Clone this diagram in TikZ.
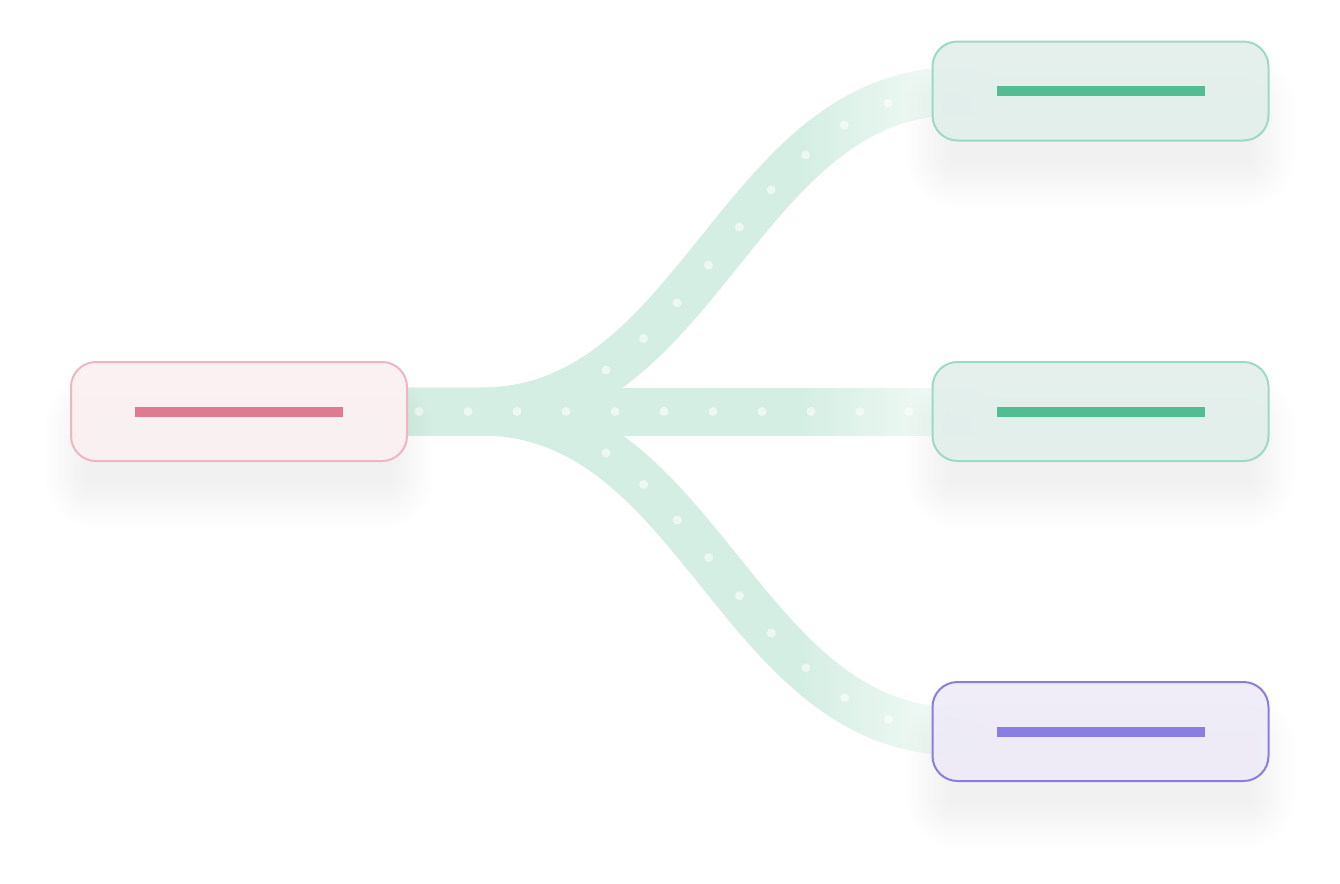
\documentclass[tikz,border=0pt]{standalone}
\usepackage{tikz}
\usetikzlibrary{decorations.markings}

\definecolor{bandgreen}{HTML}{D5EEE3}
\definecolor{pinkfill}{HTML}{FBF0F2}
\definecolor{pinkline}{HTML}{EFB5C3}
\definecolor{pinkbar}{HTML}{E07A93}
\definecolor{greenfill}{HTML}{E2EFEB}
\definecolor{greenline}{HTML}{9DD9C4}
\definecolor{greenbar}{HTML}{52BD93}
\definecolor{violetfill}{HTML}{EEEBF8}
\definecolor{violetline}{HTML}{8B7CE0}
\definecolor{violetbar}{HTML}{8A7DE3}
\definecolor{shadetone}{HTML}{3C4670}

\pgfdeclarelayer{back}
\pgfdeclarelayer{shade}
\pgfsetlayers{back,shade,main}

\begin{document}
\begin{tikzpicture}[x=0.5pt, y=-0.5pt,
    card/.style n args={3}{draw=#1, fill=#2, fill opacity=0.88, line width=1pt,
        rounded corners=12.5pt, minimum width=168pt, minimum height=49.5pt, inner sep=0pt,
        path picture={\fill[#3, fill opacity=1, sharp corners]
            ([xshift=-52pt,yshift=-2.5pt]path picture bounding box.center) rectangle
            ([xshift=52pt,yshift=2.5pt]path picture bounding box.center);}},
    band/.style={draw=#1, line width=24pt},
    band/.default=bandgreen,
    beads/.style 2 args={decoration={markings,
        mark=between positions #1 and 1 step 24.5pt with {\fill[#2] (0,0) circle (2.25pt);}},
        decorate}]

% Cards
\node[card={pinkline}{pinkfill}{pinkbar}] (src) at (239,411.5) {};
\node[card={greenline}{greenfill}{greenbar}] (top) at (1100.5,91) {};
\node[card={greenline}{greenfill}{greenbar}] (mid) at (1100.5,411.5) {};
\node[card={violetline}{violetfill}{violetbar}] (bot) at (1100.5,731.5) {};

% Soft shadows under the cards
\begin{pgfonlayer}{shade}
    \foreach \n in {src,top,mid,bot}
        \foreach \k in {-5,...,8}
            \fill[shadetone, opacity=0.004, rounded corners={12.5pt+\k*1.6pt}]
                ([xshift=-\k*1.6pt, yshift={-20pt-\k*1.6pt}]\n.south west) rectangle
                ([xshift=\k*1.6pt, yshift={-20pt+\k*1.6pt}]\n.north east);
\end{pgfonlayer}

\begin{pgfonlayer}{back}
    % Page
    \fill[white] (0,0) rectangle (1340,884);
    % Bands with beads, fading out towards the cards strip by strip
    \foreach \i in {-1,...,33} {
        \pgfmathtruncatemacro\f{\i<0 ? 100 : 100-3*\i}
        \pgfmathtruncatemacro\g{0.45*\f}
        \begin{scope}
            \ifnum\i<0 \clip (0,0) rectangle (800,884);
            \else \clip (800+6*\i,30) rectangle (807+6*\i,800); \fi
            \fill[white] (0,0) rectangle (1340,884);
            \foreach \t in {top,bot} {
                \draw[band=bandgreen!\f!white] (src.east) -- ++(73,0) .. controls +(220,0) and +(-220,0) .. ([xshift=13.5pt]\t.west) -- +(43,0);
                \path[beads={103.5pt}{bandgreen!\g!white}] (src.east) -- ++(73,0) .. controls +(220,0) and +(-220,0) .. ([xshift=13.5pt]\t.west) -- +(43,0);
            }
            \draw[band=bandgreen!\f!white] (src.east) -- ([xshift=35pt]mid.west);
            \path[beads={5.5pt}{bandgreen!\g!white}] (src.east) -- ([xshift=35pt]mid.west);
        \end{scope}
    }
\end{pgfonlayer}

\useasboundingbox (0,0) rectangle (1340,884);

\end{tikzpicture}
\end{document}
